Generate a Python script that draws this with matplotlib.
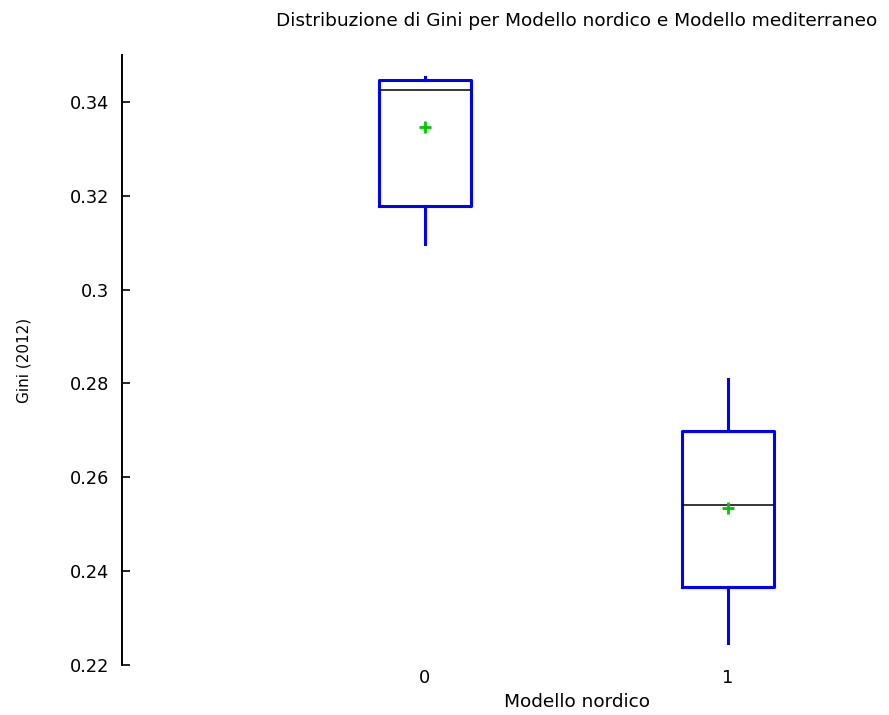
import matplotlib
matplotlib.use("Agg")
import matplotlib.pyplot as plt
from matplotlib.ticker import FuncFormatter

plt.rcParams['font.family'] = ['DejaVu Sans']

# valori (Gini 2012)
groups = [0, 1]
whisker_low = [0.3098, 0.2247]
q1 = [0.3179, 0.2366]
median = [0.3426, 0.2540]
q3 = [0.3447, 0.2698]
whisker_high = [0.3453, 0.2810]
mean = [0.3347, 0.2534]

y_ticks = [0.22, 0.24, 0.26, 0.28, 0.30, 0.32, 0.34]

fig = plt.figure(figsize=(8.89, 7.15), dpi=100)
# gnuplot area: right edge is cut off by the image, as in the original
ax = fig.add_axes([122 / 889, 50 / 715, 909 / 889, 610 / 715])

stats = []
for i in range(len(groups)):
    stats.append({'whislo': whisker_low[i], 'q1': q1[i], 'med': median[i],
                  'q3': q3[i], 'whishi': whisker_high[i], 'mean': mean[i],
                  'fliers': []})

blue = '#0000ff'
ax.bxp(stats, positions=groups, widths=0.305, showcaps=False, showmeans=True,
       boxprops=dict(color=blue, linewidth=2.2),
       whiskerprops=dict(color=blue, linewidth=2.2),
       medianprops=dict(color='black', linewidth=1.1),
       meanprops=dict(marker='+', markeredgecolor='#00c800', markersize=9,
                      markeredgewidth=2.0))

ax.set_xlim(-1, 2)
ax.set_ylim(0.22, 0.35)
ax.set_yticks(y_ticks)
ax.yaxis.set_major_formatter(FuncFormatter(lambda v, p: f"{v:g}"))
ax.set_xticks(groups)
ax.set_xticklabels([str(g) for g in groups])

for s in ['top', 'right', 'bottom']:
    ax.spines[s].set_visible(False)
ax.spines['left'].set_linewidth(1.4)
ax.tick_params(axis='y', direction='in', length=6, width=1.2, pad=9,
               labelsize=12.8, colors='black')
ax.tick_params(axis='x', length=0, pad=3, labelsize=12.8)

ax.set_ylabel("Gini (2012)", fontsize=11, labelpad=28)
ax.set_xlabel("Modello nordico", fontsize=13.3, labelpad=4)
ax.set_title("Distribuzione di Gini per Modello nordico e Modello mediterraneo",
             fontsize=13.3, pad=21)

plt.savefig("out.png", dpi=100)
